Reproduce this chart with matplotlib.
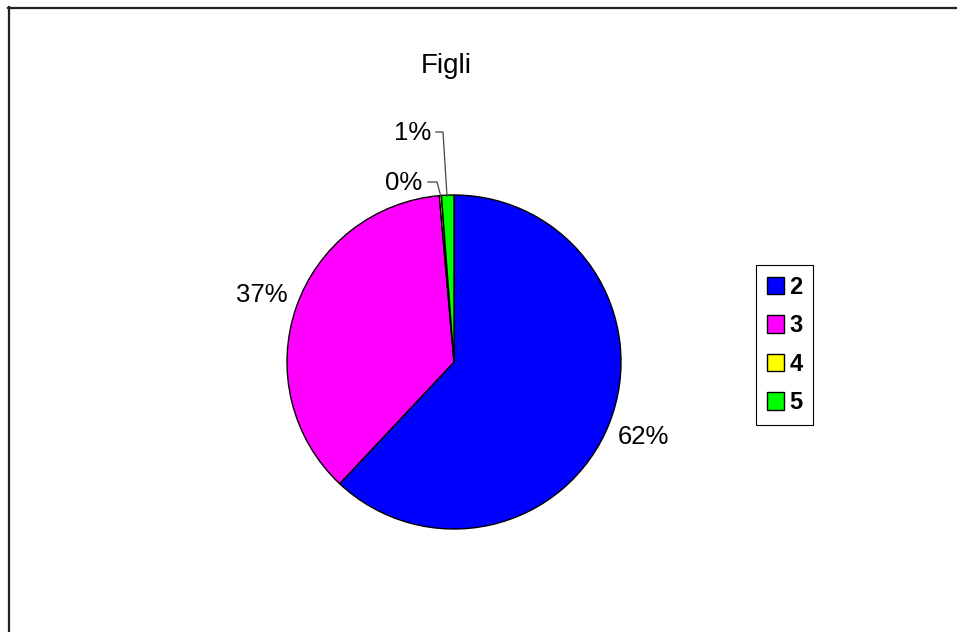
import matplotlib.pyplot as plt
from matplotlib.lines import Line2D

categorie = ['2', '3', '4', '5']
percentuali = [62.0, 36.6, 0.2, 1.2]
colori = ['#0000FF', '#FF00FF', '#FFFF00', '#00FF00']

W, H = 957, 632
fig = plt.figure(figsize=(W / 100, H / 100), dpi=100)

# cornice del grafico (bordo superiore e sinistro)
fig.add_artist(Line2D([8.5 / W, 8.5 / W], [0, 1 - 7 / H], color='#222222', lw=1.6))
fig.add_artist(Line2D([8 / W, 1], [1 - 7.5 / H, 1 - 7.5 / H], color='#222222', lw=1.6))

cx, cy, r = 454, 362, 167
ax = fig.add_axes([(cx - r) / W, (H - cy - r) / H, 2 * r / W, 2 * r / H])

wedges, texts, autotexts = ax.pie(percentuali, colors=colori, startangle=90,
                                  counterclock=False, autopct='%1.0f%%', pctdistance=1.22,
                                  wedgeprops=dict(edgecolor='black', linewidth=1.0),
                                  textprops=dict(fontsize=18.5, family='Liberation Sans'))
ax.set_xlim(-1, 1)
ax.set_ylim(-1, 1)


def px(x, y):
    return (x - cx) / r, (cy - y) / r


# etichette piccole con linee guida
autotexts[2].set_position(px(404, 183))
autotexts[3].set_position(px(413, 133))
for pts in ([(428, 182), (437, 182), (441, 197)], [(436, 132), (443, 132), (447, 196)]):
    xs, ys = zip(*[px(*p) for p in pts])
    ax.plot(xs, ys, color='#444444', lw=0.9, clip_on=False)

fig.text(446 / W, 1 - 73 / H, 'Figli', ha='center', va='baseline', fontsize=20,
         family='Liberation Sans')

leg = fig.legend(wedges, categorie, loc='center', bbox_to_anchor=(784.5 / W, 1 - 345 / H),
                 prop=dict(family='Liberation Sans', weight='bold', size=17),
                 fancybox=False, framealpha=1, edgecolor='black', handlelength=0.76,
                 handleheight=0.76, handletextpad=0.2, labelspacing=0.66,
                 borderpad=0.45, borderaxespad=0)
leg.get_frame().set_linewidth(0.8)

fig.savefig('out.png', dpi=100)
